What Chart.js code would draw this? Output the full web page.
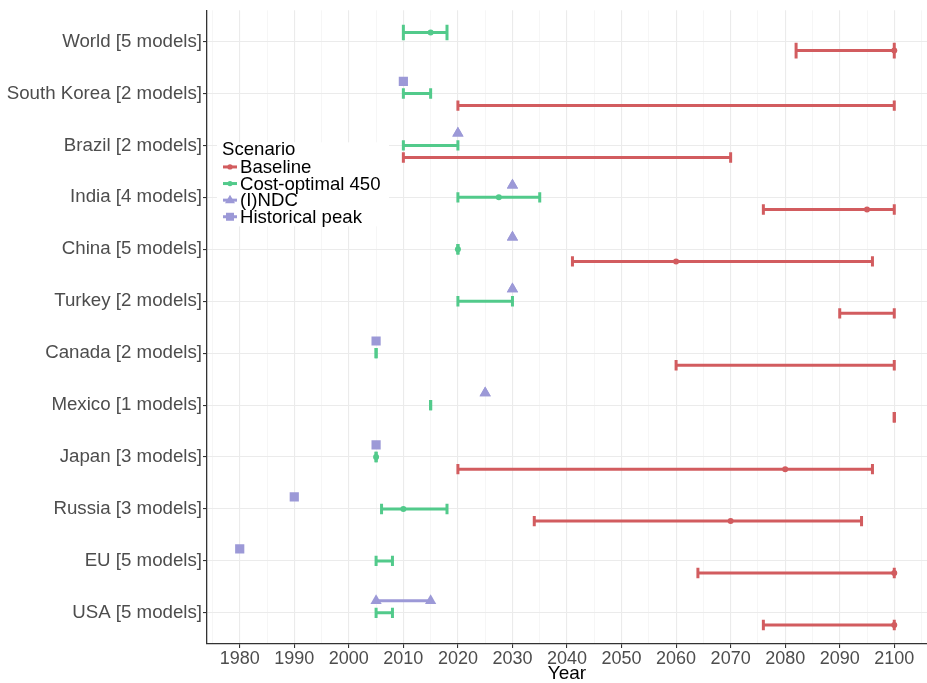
<!DOCTYPE html>
<html>
<head>
<meta charset="utf-8">
<script src="https://cdn.jsdelivr.net/npm/chart.js@4.4.1/dist/chart.umd.min.js"></script>
<style>
    html, body { margin: 0; padding: 0; background: #fff; overflow: hidden; }
</style>
</head>
<body>
<canvas id="peak" width="927" height="683"></canvas>
<script>
// rows top to bottom
var regions = ['World', 'South Korea', 'Brazil', 'India', 'China', 'Turkey', 'Canada', 'Mexico', 'Japan', 'Russia', 'EU', 'USA'];
var modelCounts = [5, 2, 2, 4, 5, 2, 2, 1, 3, 3, 5, 5];

// Baseline peak year range (min / max) and median
var baselineMin = [2082, 2020, 2010, 2076, 2041, 2090, 2060, 2100, 2020, 2034, 2064, 2076];
var baselineMax = [2100, 2100, 2070, 2100, 2096, 2100, 2100, 2100, 2096, 2094, 2100, 2100];
var baselineMed = [2100, null, null, 2095, 2060, null, null, null, 2080, 2070, 2100, 2100];

// Cost-optimal 450
var costMin = [2010, 2010, 2010, 2020, 2020, 2020, 2005, 2015, 2005, 2006, 2005, 2005];
var costMax = [2018, 2015, 2020, 2035, 2020, 2030, 2005, 2015, 2005, 2018, 2008, 2008];
var costMed = [2015, null, null, 2027.5, 2020, null, null, null, 2005, 2010, null, null];

// (I)NDC
var ndcMin = [null, null, 2020, 2030, 2030, 2030, null, 2025, null, null, null, 2005];
var ndcMax = [null, null, 2020, 2030, 2030, 2030, null, 2025, null, null, null, 2015];

// Historical peak
var histPeak = [null, 2010, null, null, null, null, 2005, null, 2005, 1990, 1980, null];

var yearTicks = [1980, 1990, 2000, 2010, 2020, 2030, 2040, 2050, 2060, 2070, 2080, 2090, 2100];

var legendTitle = 'Scenario';
var scenarios = ['Baseline', 'Cost-optimal 450', '(I)NDC', 'Historical peak'];

var RED = '#D25C5F';
var GREEN = '#52CA8B';
var PURPLE = '#9C99D7';
var scenarioColors = [RED, GREEN, PURPLE, PURPLE];
var scenarioMarks = ['circle', 'circle', 'triangle', 'rect'];

var FONT = '"Liberation Sans", Arial, Helvetica, sans-serif';
var DODGE = 0.7;

Chart.defaults.font.family = FONT;

function capRadius(n) {
    return function (ctx) {
        var s = ctx.chart.scales.y;
        if (!s) return 5;
        return Math.abs(s.getPixelForValue(1) - s.getPixelForValue(0)) * 0.3 / n;
    };
}

function errorBar(lo, hi, pos, color, n) {
    return {
        showLine: true,
        data: [{x: lo, y: pos}, {x: hi, y: pos}],
        borderColor: color,
        borderWidth: 3,
        borderCapStyle: 'butt',
        pointStyle: 'line',
        rotation: 90,
        pointRadius: capRadius(n),
        pointBorderWidth: 3,
        pointBorderColor: color,
        pointBackgroundColor: color,
        order: 3
    };
}

function dot(x, pos, color, style, r) {
    return {
        data: [{x: x, y: pos}],
        pointStyle: style,
        pointRadius: r,
        pointBorderWidth: 0,
        pointBackgroundColor: color,
        backgroundColor: color,
        borderColor: color,
        order: 1
    };
}

var datasets = [];
for (var i = 0; i < regions.length; i++) {
    var hasPurple = ndcMin[i] !== null || histPeak[i] !== null;
    var n = (hasPurple ? 1 : 0) + (costMin[i] !== null ? 1 : 0) + (baselineMin[i] !== null ? 1 : 0);
    var k = 0;
    var slot = function () { var p = i + (k - (n - 1) / 2) * DODGE / n; k++; return p; };

    if (hasPurple) {
        var pp = slot();
        if (ndcMin[i] !== null) {
            datasets.push({
                showLine: true,
                data: [{x: ndcMin[i], y: pp}, {x: ndcMax[i], y: pp}],
                borderColor: PURPLE,
                borderWidth: 3,
                pointStyle: 'triangle',
                pointRadius: 6.5,
                pointBorderWidth: 0,
                pointBackgroundColor: PURPLE,
                order: 0
            });
        }
        if (histPeak[i] !== null) {
            datasets.push(dot(histPeak[i], pp, PURPLE, 'rect', 6.5));
        }
    }
    if (costMin[i] !== null) {
        var gp = slot();
        datasets.push(errorBar(costMin[i], costMax[i], gp, GREEN, n));
        if (costMed[i] !== null) datasets.push(dot(costMed[i], gp, GREEN, 'circle', 3));
    }
    if (baselineMin[i] !== null) {
        var rp = slot();
        datasets.push(errorBar(baselineMin[i], baselineMax[i], rp, RED, n));
        if (baselineMed[i] !== null) datasets.push(dot(baselineMed[i], rp, RED, 'circle', 3));
    }
}

function isMajor(v) { return yearTicks.indexOf(v) >= 0; }

var legendPlugin = {
    id: 'scenarioLegend',
    afterDatasetsDraw: function (chart) {
        var ctx = chart.ctx;
        var a = chart.chartArea;
        var x0 = a.left + 15;
        var y0 = a.top + 140;
        var step = 16.6;
        ctx.save();
        ctx.fillStyle = '#fff';
        ctx.fillRect(x0 - 5, y0 - 8, 172, 84);
        ctx.font = '18.6px ' + FONT;
        ctx.textBaseline = 'middle';
        ctx.fillStyle = '#000';
        ctx.fillText(legendTitle, x0, y0);
        for (var j = 0; j < scenarios.length; j++) {
            var yy = y0 + step * (j + 1);
            var c = scenarioColors[j];
            ctx.strokeStyle = c;
            ctx.fillStyle = c;
            ctx.lineWidth = 3;
            ctx.beginPath();
            ctx.moveTo(x0 + 1, yy);
            ctx.lineTo(x0 + 15, yy);
            ctx.stroke();
            var cx = x0 + 8;
            ctx.beginPath();
            if (scenarioMarks[j] === 'circle') {
                ctx.arc(cx, yy, 2.6, 0, Math.PI * 2);
            } else if (scenarioMarks[j] === 'triangle') {
                ctx.moveTo(cx, yy - 5.5);
                ctx.lineTo(cx + 5, yy + 3);
                ctx.lineTo(cx - 5, yy + 3);
                ctx.closePath();
            } else {
                ctx.rect(cx - 4, yy - 4, 8, 8);
            }
            ctx.fill();
            ctx.fillStyle = '#000';
            ctx.fillText(scenarios[j], x0 + 18, yy + 1);
        }
        ctx.restore();
    }
};

new Chart(document.getElementById('peak'), {
    type: 'scatter',
    data: {datasets: datasets},
    plugins: [legendPlugin],
    options: {
        responsive: false,
        animation: false,
        events: [],
        layout: {autoPadding: false, padding: {top: 10, right: -3, left: 0, bottom: 0}},
        plugins: {
            legend: {display: false},
            tooltip: {enabled: false}
        },
        scales: {
            x: {
                type: 'linear',
                position: 'bottom',
                min: 1974,
                max: 2106,
                afterBuildTicks: function (scale) {
                    var t = [{value: yearTicks[0] - 5}];
                    yearTicks.forEach(function (v) {
                        t.push({value: v});
                        t.push({value: v + 5});
                    });
                    scale.ticks = t;
                },
                afterFit: function (scale) { scale.height = 39; },
                ticks: {
                    autoSkip: false,
                    maxRotation: 0,
                    padding: 0,
                    color: '#4D4D4D',
                    font: {size: 18},
                    callback: function (v) { return isMajor(v) ? String(v) : ''; }
                },
                grid: {
                    color: function (c) { return isMajor(c.tick.value) ? '#EBEBEB' : '#F2F2F2'; },
                    lineWidth: function (c) { return isMajor(c.tick.value) ? 1.1 : 0.7; },
                    tickLength: 4,
                    tickColor: function (c) { return isMajor(c.tick.value) ? '#333333' : 'rgba(0,0,0,0)'; }
                },
                border: {display: true, color: '#333333', width: 1.3},
                title: {
                    display: true,
                    text: 'Year',
                    color: '#000',
                    font: {size: 19, lineHeight: 1},
                    padding: {top: 0, bottom: 0}
                }
            },
            y: {
                type: 'linear',
                reverse: true,
                min: -0.6,
                max: regions.length - 0.4,
                afterBuildTicks: function (scale) {
                    scale.ticks = regions.map(function (r, j) { return {value: j}; });
                },
                afterFit: function (scale) { scale.width = 207; },
                ticks: {
                    autoSkip: false,
                    padding: 1,
                    color: '#4D4D4D',
                    font: {size: 18.7, lineHeight: 1},
                    callback: function (v) { return regions[v] + ' [' + modelCounts[v] + ' models]'; }
                },
                grid: {
                    color: '#EBEBEB',
                    lineWidth: 1.1,
                    tickLength: 4,
                    tickColor: '#333333'
                },
                border: {display: true, color: '#333333', width: 1.3}
            }
        }
    }
});
</script>
</body>
</html>
